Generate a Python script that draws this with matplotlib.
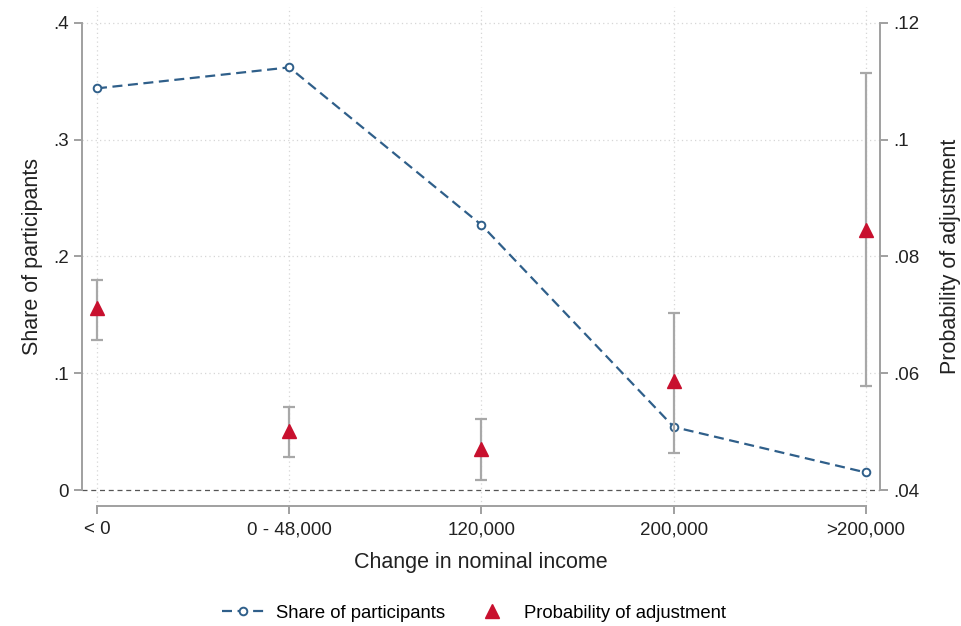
import numpy as np
import matplotlib
matplotlib.use('Agg')
import matplotlib.pyplot as plt

plt.rcParams['font.family'] = ['Liberation Sans', 'DejaVu Sans']

# income change bins
categories = ['< 0', '0 - 48,000', '120,000', '200,000', '>200,000']
share = [0.344, 0.362, 0.227, 0.054, 0.015]              # left axis
prob = [0.0711, 0.0501, 0.0471, 0.0586, 0.0846]          # right axis
prob_lo = [0.0657, 0.0457, 0.0417, 0.0464, 0.0578]
prob_hi = [0.0760, 0.0543, 0.0521, 0.0703, 0.1115]

blue = '#2f5f8a'
red = '#c8102e'
gray = '#a8a8a8'

x = np.arange(len(categories))
ylo, yhi = -0.0137, 0.4137

fig = plt.figure(figsize=(9.62, 6.26), dpi=100)
ax = fig.add_axes([82/962, 1 - 506/626, 798/962, 499/626])
ax2 = ax.twinx()

# grid
for v in [0.1, 0.2, 0.3, 0.4]:
    ax.axhline(v, color='#d6d6d6', lw=0.9, ls=(0, (1, 2.5)), zorder=0)
for xi in x:
    ax.axvline(xi, color='#d6d6d6', lw=0.9, ls=(0, (1, 2.5)), zorder=0)
ax.axhline(0, color='#555555', lw=0.9, ls=(0, (4, 3)), zorder=1)

ax.plot(x, share, color=blue, lw=1.6, ls=(0, (4.5, 2.5)), marker='o', ms=5.5,
        mfc='white', mec=blue, mew=1.4, zorder=4, label='Share of participants')

lo_err = np.array(prob) - np.array(prob_lo)
hi_err = np.array(prob_hi) - np.array(prob)
ax2.errorbar(x, prob, yerr=[lo_err, hi_err], fmt='none', ecolor=gray,
             elinewidth=1.6, capsize=4, capthick=1.6, zorder=2)
ax2.plot(x, prob, ls='none', marker='^', ms=10, color=red, zorder=5,
         label='Probability of adjustment')

ax.set_xlim(-0.078, 4.073)
ax.set_ylim(ylo, yhi)
ax2.set_ylim(0.04 + 0.2 * ylo, 0.04 + 0.2 * yhi)

ax.set_yticks([0, 0.1, 0.2, 0.3, 0.4])
ax.set_yticklabels(['0', '.1', '.2', '.3', '.4'])
ax2.set_yticks([0.04, 0.06, 0.08, 0.10, 0.12])
ax2.set_yticklabels(['.04', '.06', '.08', '.1', '.12'])
ax.set_xticks(x)
ax.set_xticklabels(categories)

for a in (ax, ax2):
    a.spines['top'].set_visible(False)
    for s in ('left', 'right', 'bottom'):
        a.spines[s].set_color('#a0a0a0')
        a.spines[s].set_linewidth(1.4)
    a.tick_params(colors='#a0a0a0', labelcolor='#222222', labelsize=13.5,
                  length=6, width=1.4)
ax.tick_params(axis='x', pad=5)
ax.spines['right'].set_visible(False)
ax2.spines['left'].set_visible(False)
ax2.spines['bottom'].set_visible(False)
ax.spines['left'].set_bounds(0, 0.4)
ax.spines['bottom'].set_bounds(0, 4)
ax2.spines['right'].set_bounds(0.04, 0.12)

ax.set_xlabel('Change in nominal income', fontsize=15.5, color='#222222', labelpad=10)
ax.set_ylabel('Share of participants', fontsize=15.5, color='#222222', labelpad=7)
ax2.set_ylabel('Probability of adjustment', fontsize=15.5, color='#222222', labelpad=15)

h1, l1 = ax.get_legend_handles_labels()
h2, l2 = ax2.get_legend_handles_labels()
fig.legend(h1 + h2, l1 + l2, loc='center', bbox_to_anchor=(0.493, 1 - 613/626),
           ncol=2, frameon=False, fontsize=13.3, columnspacing=1.4,
           handlelength=2.3, handletextpad=0.6)

fig.savefig('out.png', dpi=100, facecolor='white')
